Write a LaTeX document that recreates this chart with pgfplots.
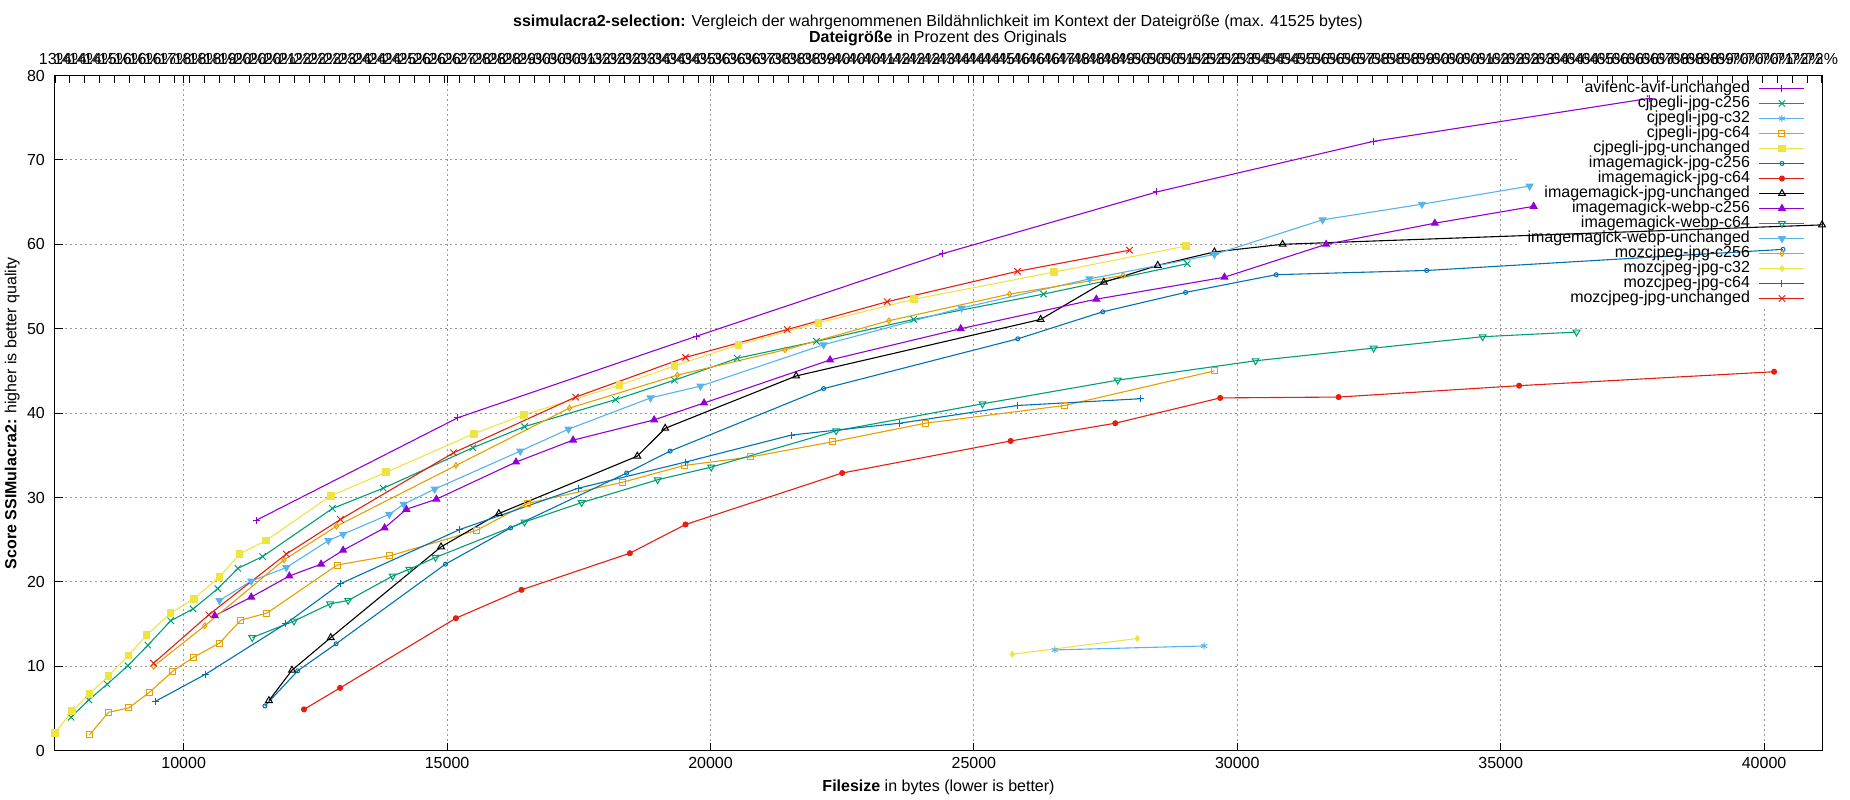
\documentclass[border=0pt]{standalone}
\usepackage{fontspec}
\setmainfont{Liberation Sans}
\usepackage{pgfplots}
\pgfplotsset{compat=1.18}
\definecolor{gpurple}{RGB}{148,0,211}
\definecolor{ggreen}{RGB}{0,158,115}
\definecolor{gsky}{RGB}{86,180,233}
\definecolor{gorange}{RGB}{230,159,0}
\definecolor{gyellow}{RGB}{240,228,66}
\definecolor{gblue}{RGB}{0,114,178}
\definecolor{gred}{RGB}{229,30,16}
\pgfplotsset{/pgf/number format/assume math mode=true}
\begin{document}
\fontsize{16}{18}\selectfont
\begin{tikzpicture}[font=\fontsize{16}{18}\selectfont]
\useasboundingbox (0,0) rectangle (1850pt,800pt);
\begin{axis}[
  at={(55pt,49.3pt)}, anchor=south west,
  scale only axis, width=1767pt, height=675.2pt,
  xmin=7557, xmax=41100, ymin=0, ymax=80,
  xtick={10000,15000,...,40000}, ytick={0,10,...,80},
  scaled x ticks=false,
  xticklabel style={/pgf/number format/1000 sep={}, anchor=base, yshift=-17.8pt},
  yticklabel style={anchor=east, inner sep=0pt, xshift=-10pt},
  tick align=inside, major tick length=8pt,
  every tick/.style={black, line width=1pt},
  axis line style={line width=1pt},
  grid=major,
  grid style={color=black!40, line width=0.9pt, dash pattern=on 2pt off 3pt},
  xlabel={\textbf{Filesize} in bytes (lower is better)},
  xlabel style={at={(axis description cs:0.5,-0.0597)}, anchor=base},
  ylabel={\textbf{Score SSIMulacra2:} higher is better quality},
  ylabel style={at={(axis description cs:-0.02179,0.5)}, anchor=base, rotate=0},
  every axis plot/.append style={line width=1.1pt},
  legend style={at={(1,1)}, anchor=north east, xshift=-17pt, yshift=-5.5pt,
    draw=none, fill=none, inner sep=0pt, outer sep=0pt, row sep=0pt, column sep=9pt,
    nodes={inner sep=0pt, text height=11.5pt, text depth=3.5pt}},
  legend cell align=right,
  legend plot pos=right,
  legend image code/.code={\draw[mark repeat=2,mark phase=2] plot coordinates {(0pt,0pt) (22.5pt,0pt) (45pt,0pt)};},
]
\fill[white] (axis cs:35302,52.3) rectangle (axis cs:41100,80);

\addplot[gpurple, mark=+, mark size=3.5pt, mark options={line width=1pt}] coordinates {
(11377,27.3) (15203,39.45) (19729,49.1) (24413,58.9) (28470,66.2) (32585,72.2) (37830,77.3)};
\addlegendentry{avifenc-avif-unchanged}

\addplot[ggreen, mark=x, mark size=4.5pt, mark options={line width=1pt}] coordinates {
(7862,3.96) (8198,6.02) (8547,7.88) (8940,10.06) (9321,12.5) (9753,15.4) (10178,16.8) (10647,19.2) (11028,21.6) (11497,23.0) (12824,28.7) (13788,31.1) (15488,35.9) (16470,38.4) (18198,41.6) (19316,43.9) (20508,46.5) (22012,48.5) (23855,51.1) (26321,54.1) (29051,57.7)};
\addlegendentry{cjpegli-jpg-c256}

\addplot[gsky, mark=asterisk, mark size=3.5pt, mark options={line width=1pt}] coordinates {
(26536,11.94) (29372,12.41)};
\addlegendentry{cjpegli-jpg-c32}

\addplot[gorange, mark=square, mark size=3pt, mark options={line width=1pt}] coordinates {
(8211,1.86) (8572,4.55) (8959,5.07) (9353,6.93) (9791,9.42) (10190,11.08) (10679,12.75) (11085,15.48) (11580,16.3) (12912,22.0) (13915,23.1) (15556,26.1) (16524,29.3) (18326,31.8) (19505,33.8) (20759,34.8) (22317,36.6) (24079,38.8) (26721,40.9) (29566,45.0)};
\addlegendentry{cjpegli-jpg-c64}

\addplot[gyellow, mark=square*, mark size=3.3pt, mark options={line width=1pt}] coordinates {
(7557,2.1) (7881,4.67) (8211,6.73) (8572,8.87) (8953,11.3) (9296,13.7) (9753,16.3) (10190,18.0) (10679,20.6) (11060,23.3) (11561,24.9) (12792,30.2) (13845,33.0) (15508,37.55) (16457,39.8) (18272,43.3) (19316,45.6) (20535,48.1) (22053,50.7) (23868,53.5) (26518,56.7) (29031,59.8)};
\addlegendentry{cjpegli-jpg-unchanged}

\addplot[gblue, mark=o, mark size=2pt, mark options={line width=1pt}] coordinates {
(11542,5.3) (12164,9.46) (12893,12.67) (14968,22.1) (16206,26.4) (18408,32.9) (19234,35.5) (22147,42.9) (25833,48.8) (27446,52.0) (29018,54.3) (30739,56.4) (33595,56.9) (40360,59.4)};
\addlegendentry{imagemagick-jpg-c256}

\addplot[gred, mark=*, mark size=2.5pt, mark options={line width=1pt}] coordinates {
(12284,4.9) (12969,7.44) (15167,15.7) (16412,19.06) (18469,23.4) (19526,26.8) (22500,32.9) (25698,36.7) (27683,38.8) (29675,41.8) (31924,41.9) (35350,43.25) (40190,44.9)};
\addlegendentry{imagemagick-jpg-c64}

\addplot[black, mark=triangle, mark size=3.9pt, mark options={line width=1pt}] coordinates {
(11618,5.94) (12056,9.54) (12792,13.4) (14885,24.15) (15982,28.1) (18611,34.9) (19140,38.2) (21626,44.4) (26267,51.1) (27466,55.5) (28489,57.5) (29566,59.1) (30860,60.0) (41100,62.3)};
\addlegendentry{imagemagick-jpg-unchanged}

\addplot[gpurple, mark=triangle*, mark size=3.9pt, mark options={line width=1pt}] coordinates {
(10590,16.0) (11282,18.2) (12005,20.7) (12608,22.1) (13026,23.75) (13813,26.4) (14226,28.6) (14797,29.8) (16308,34.2) (17392,36.8) (18930,39.2) (19878,41.2) (22270,46.3) (24750,50.0) (27324,53.5) (29756,56.1) (31687,60.0) (33750,62.5) (35625,64.5)};
\addlegendentry{imagemagick-webp-c256}

\addplot[ggreen, mark=triangle, mark size=3.9pt, mark options={line width=1pt, rotate=180}] coordinates {
(11301,13.4) (12094,15.36) (12779,17.4) (13122,17.8) (13966,20.7) (14283,21.5) (14780,22.9) (16470,27.1) (17554,29.4) (18997,32.1) (20014,33.6) (22385,37.9) (25163,41.1) (27730,43.9) (30346,46.2) (32588,47.7) (34656,49.05) (36439,49.6)};
\addlegendentry{imagemagick-webp-c64}

\addplot[gsky, mark=triangle*, mark size=3.9pt, mark options={line width=1pt, rotate=180}] coordinates {
(10679,17.8) (11282,20.1) (11948,21.7) (12747,24.9) (13026,25.65) (13902,28.0) (14175,29.2) (14765,31.0) (16389,35.5) (17304,38.1) (18862,41.8) (19810,43.2) (22147,48.1) (24766,52.45) (27195,55.9) (29566,58.8) (31619,62.9) (33505,64.75) (35549,66.9)};
\addlegendentry{imagemagick-webp-unchanged}

\addplot[gorange, mark=diamond, mark size=2.8pt, mark options={line width=1pt}] coordinates {
(9429,10.0) (10400,14.8) (11903,22.6) (12900,26.6) (15169,33.8) (17324,40.6) (19370,44.5) (21416,47.5) (23387,50.95) (25678,54.1) (27832,56.3)};
\addlegendentry{mozcjpeg-jpg-c256}

\addplot[gyellow, mark=diamond*, mark size=2.8pt, mark options={line width=1pt}] coordinates {
(25730,11.43) (28103,13.3)};
\addlegendentry{mozcjpeg-jpg-c32}

\addplot[gblue, mark=+, mark size=3.5pt, mark options={line width=1pt}] coordinates {
(9467,5.86) (10419,9.07) (11935,15.04) (12982,19.8) (15237,26.2) (17493,31.1) (19526,34.2) (21538,37.4) (23591,38.8) (25827,40.9) (28157,41.7)};
\addlegendentry{mozcjpeg-jpg-c64}

\addplot[gred, mark=x, mark size=4.5pt, mark options={line width=1pt}] coordinates {
(9429,10.37) (10476,16.1) (11948,23.3) (12976,27.4) (15122,35.3) (17439,41.9) (19526,46.6) (21457,49.9) (23354,53.2) (25827,56.8) (27954,59.3)};
\addlegendentry{mozcjpeg-jpg-unchanged}
\end{axis}

\begin{axis}[
  at={(55pt,49.3pt)}, anchor=south west,
  scale only axis, width=1767pt, height=675.2pt,
  xmin=13, xmax=72, ymin=0, ymax=80,
  axis x line*=top, axis y line=none,
  xtick={13,13.5,...,72.1},
  xticklabel={\pgfmathsetmacro\vv{\tick}\pgfmathtruncatemacro\nn{floor(\vv+0.01)}\pgfmathtruncatemacro\lab{(\vv-\nn>0.25) ? (\nn+mod(\nn,2)) : \nn}\lab\%},
  xticklabel style={anchor=base, yshift=10.8pt},
  tick align=inside, major tick length=8pt,
  every tick/.style={black, line width=1pt},
  axis line style={line width=1pt},
]
\addplot[draw=none, forget plot] coordinates {(20,10)};
\end{axis}

\node[anchor=base] at (938pt,773pt) {\textbf{ssimulacra2-selection:} Vergleich der wahrgenommenen Bildähnlichkeit im Kontext der Dateigröße (max. 41525 bytes)};
\node[anchor=base] at (938pt,757pt) {\textbf{Dateigröße} in Prozent des Originals};
\end{tikzpicture}
\end{document}
